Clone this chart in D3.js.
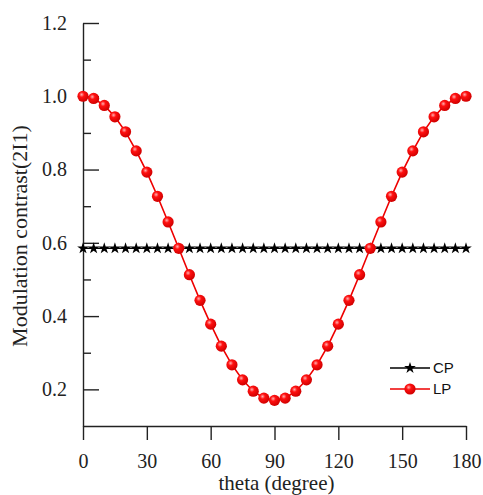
<!DOCTYPE html>
<html>
<head>
<meta charset="utf-8">
<script src="https://cdn.jsdelivr.net/npm/d3@7"></script>
<style>
  body { margin: 0; background: #fff; }
  .axis text { font-family: "Liberation Serif", "Times New Roman", serif; font-size: 20px; fill: #222; }
  .axis path, .axis line { stroke: #222; stroke-width: 1.4; }
</style>
</head>
<body>
<div id="viz"></div>
<script>
// angles in degrees (5 degree step)
const theta = [0, 5, 10, 15, 20, 25, 30, 35, 40, 45, 50, 55, 60, 65, 70, 75, 80, 85, 90,
  95, 100, 105, 110, 115, 120, 125, 130, 135, 140, 145, 150, 155, 160, 165, 170, 175, 180];

// circular polarisation: flat
const cpValues = [0.585, 0.585, 0.585, 0.585, 0.585, 0.585, 0.585, 0.585, 0.585, 0.585,
  0.585, 0.585, 0.585, 0.585, 0.585, 0.585, 0.585, 0.585, 0.585, 0.585, 0.585, 0.585,
  0.585, 0.585, 0.585, 0.585, 0.585, 0.585, 0.585, 0.585, 0.585, 0.585, 0.585, 0.585,
  0.585, 0.585, 0.585];

// linear polarisation
const lpValues = [1.0, 0.994, 0.975, 0.944, 0.903, 0.851, 0.793, 0.727, 0.657, 0.585,
  0.513, 0.443, 0.378, 0.318, 0.267, 0.226, 0.195, 0.176, 0.17,
  0.176, 0.195, 0.226, 0.267, 0.318, 0.378, 0.443, 0.513, 0.585, 0.657,
  0.727, 0.793, 0.851, 0.903, 0.944, 0.975, 0.994, 1.0];

const xTicks = [0, 30, 60, 90, 120, 150, 180];
const yTicks = [0.2, 0.4, 0.6, 0.8, 1.0, 1.2];
const yMinorTicks = [0.3, 0.5, 0.7, 0.9, 1.1];
const seriesNames = ["CP", "LP"];

const W = 483, H = 495;
const margin = {top: 23, right: 17, bottom: 69, left: 83};
const width = W - margin.left - margin.right;
const height = H - margin.top - margin.bottom;

const svg = d3.select("#viz").append("svg")
  .attr("width", W)
  .attr("height", H);

const defs = svg.append("defs");
const grad = defs.append("radialGradient")
  .attr("id", "ball")
  .attr("cx", "38%").attr("cy", "35%").attr("r", "65%");
grad.append("stop").attr("offset", "0%").attr("stop-color", "#ffb0b0");
grad.append("stop").attr("offset", "35%").attr("stop-color", "#ff1010");
grad.append("stop").attr("offset", "100%").attr("stop-color", "#d00000");

const g = svg.append("g")
  .attr("transform", `translate(${margin.left},${margin.top})`);

const x = d3.scaleLinear().domain([0, 180]).range([0, width]);
const y = d3.scaleLinear().domain([0.1, 1.2]).range([height, 0]);

// axes
g.append("g")
  .attr("class", "axis")
  .attr("transform", `translate(0,${height})`)
  .call(d3.axisBottom(x).tickValues(xTicks).tickSize(14).tickSizeOuter(0).tickPadding(14)
    .tickFormat(d3.format("d")));

g.append("g")
  .attr("class", "axis")
  .call(d3.axisLeft(y).tickValues(yTicks).tickSizeInner(-16).tickSizeOuter(0).tickPadding(16)
    .tickFormat(d3.format(".1f")));

g.append("g")
  .attr("class", "axis")
  .call(d3.axisLeft(y).tickValues(yMinorTicks).tickSizeInner(-8).tickSizeOuter(0)
    .tickFormat(""))
  .select(".domain").remove();

// axis titles
svg.append("text")
  .attr("x", margin.left + width / 2 + 2)
  .attr("y", 490)
  .attr("text-anchor", "middle")
  .style("font-family", "Liberation Serif, serif")
  .style("font-size", "21px")
  .style("fill", "#222")
  .text("theta (degree)");

svg.append("text")
  .attr("transform", "translate(27,236) rotate(-90)")
  .attr("text-anchor", "middle")
  .style("font-family", "Liberation Serif, serif")
  .style("font-size", "22px")
  .style("fill", "#222")
  .text("Modulation contrast(2I1)");

const line = d3.line()
  .x(d => x(d[0]))
  .y(d => y(d[1]));

const cpData = theta.map((t, i) => [t, cpValues[i]]);
const lpData = theta.map((t, i) => [t, lpValues[i]]);
const star = d3.symbol().type(d3.symbolStar).size(42);

// CP series
g.append("path")
  .datum(cpData)
  .attr("fill", "none")
  .attr("stroke", "#000")
  .attr("stroke-width", 1.5)
  .attr("d", line);

g.selectAll(".cp")
  .data(cpData)
  .join("path")
    .attr("class", "cp")
    .attr("transform", d => `translate(${x(d[0])},${y(d[1])})`)
    .attr("d", star)
    .attr("fill", "#000");

// LP series
g.append("path")
  .datum(lpData)
  .attr("fill", "none")
  .attr("stroke", "#ee0000")
  .attr("stroke-width", 1.6)
  .attr("d", line);

g.selectAll(".lp")
  .data(lpData)
  .join("circle")
    .attr("class", "lp")
    .attr("cx", d => x(d[0]))
    .attr("cy", d => y(d[1]))
    .attr("r", 5.6)
    .attr("fill", "url(#ball)");

// legend
const legend = svg.append("g")
  .attr("transform", "translate(390,368)");

seriesNames.forEach((name, i) => {
  const row = legend.append("g").attr("transform", `translate(0,${i * 21})`);
  row.append("line")
    .attr("x1", 0).attr("x2", 40)
    .attr("stroke", i === 0 ? "#000" : "#ee0000")
    .attr("stroke-width", 1.5);
  if (i === 0) {
    row.append("path").attr("transform", "translate(20,0)").attr("d", star).attr("fill", "#000");
  } else {
    row.append("circle").attr("cx", 20).attr("r", 5.6).attr("fill", "url(#ball)");
  }
  row.append("text")
    .attr("x", 43)
    .attr("dy", "0.35em")
    .style("font-family", "Liberation Sans, Arial, sans-serif")
    .style("font-size", "15px")
    .style("fill", "#111")
    .text(name);
});
</script>
</body>
</html>
